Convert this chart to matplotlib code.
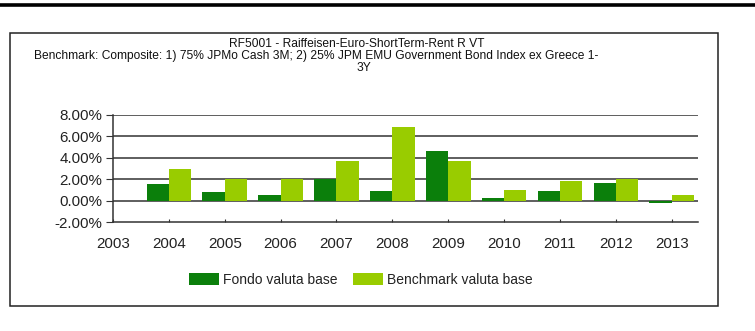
import matplotlib
matplotlib.use("Agg")
import matplotlib.pyplot as plt
from matplotlib import font_manager
from matplotlib.patches import Rectangle
from matplotlib.lines import Line2D

# ---- data ----
years = [2004, 2005, 2006, 2007, 2008, 2009, 2010, 2011, 2012, 2013]
fondo = [1.56, 0.78, 0.50, 2.06, 0.90, 4.64, 0.22, 0.90, 1.68, -0.20]
benchmark = [2.96, 2.03, 2.03, 3.74, 6.85, 3.71, 1.00, 1.84, 2.06, 0.50]
xtick_years = [2003, 2004, 2005, 2006, 2007, 2008, 2009, 2010, 2011, 2012, 2013]
yticks = [-2, 0, 2, 4, 6, 8]
series_names = ["Fondo valuta base", "Benchmark valuta base"]
title1 = "RF5001 - Raiffeisen-Euro-ShortTerm-Rent R VT"
title2 = "Benchmark: Composite: 1) 75% JPMo Cash 3M; 2) 25% JPM EMU Government Bond Index ex Greece 1-"
title3 = "3Y"

DARK = "#0b7f0b"
LIGHT = "#99cc00"

names = {f.name for f in font_manager.fontManager.ttflist}
REG = "Liberation Sans" if "Liberation Sans" in names else "DejaVu Sans"
NAR = "Liberation Sans Narrow" if "Liberation Sans Narrow" in names else REG

W, H = 755, 331
fig = plt.figure(figsize=(W / 100, H / 100), dpi=100)
renderer = fig.canvas.get_renderer()


def fit_size(s, family, target_px):
    t = fig.text(0, 0, s, fontsize=10, family=family)
    w = t.get_window_extent(renderer=renderer).width
    t.remove()
    return 10 * target_px / w


def fx(px):
    return px / W


def fy(py):
    return 1 - py / H


# top thick line and frame box
fig.add_artist(Line2D([0, 1], [fy(4.5), fy(4.5)], color="black", lw=2.6,
                      transform=fig.transFigure))
fig.add_artist(Rectangle((fx(10), fy(306)), fx(718) - fx(10), fy(33) - fy(306),
                         transform=fig.transFigure, fill=False,
                         edgecolor="#222222", lw=1.1))

# titles
fst = fit_size(title2, NAR, 566)
fig.text(fx(357), fy(47), title1, fontsize=fst, family=NAR, ha="center",
         va="baseline", color="#111111")
fig.text(fx(316), fy(59), title2, fontsize=fst, family=NAR, ha="center",
         va="baseline", color="#111111")
fig.text(fx(364), fy(71), title3, fontsize=fst, family=NAR, ha="center",
         va="baseline", color="#111111")

# axes
ax = fig.add_axes([fx(113), fy(222), fx(698) - fx(113), fy(115) - fy(222)])
bw = 0.4
ax.bar([y - 0.2 for y in years], fondo, width=bw, color=DARK, zorder=3,
       label=series_names[0])
ax.bar([y + 0.2 for y in years], benchmark, width=bw, color=LIGHT, zorder=3,
       label=series_names[1])

ax.set_xlim(2003, 2013.47)
ax.set_ylim(-2, 8)
ax.set_yticks(yticks)
ax.set_yticklabels([f"{v:.2f}%" for v in yticks])
ax.set_xticks(xtick_years)
ax.set_xticklabels([str(y) for y in xtick_years])

for v in yticks[1:]:
    ax.axhline(v, color="#333333", lw=1.1, zorder=1)

for s in ["top", "right"]:
    ax.spines[s].set_visible(False)
for s in ["left", "bottom"]:
    ax.spines[s].set_color("#333333")
    ax.spines[s].set_linewidth(1.1)

fy_lab = fit_size("8.00%", REG, 43)
fx_lab = fit_size("2004", NAR, 34)
ax.tick_params(axis="y", direction="out", length=5, width=0.8, color="#333333",
               pad=2.5, labelsize=fy_lab, labelcolor="#222222")
ax.tick_params(axis="x", direction="in", length=2.5, width=0.8, color="#333333",
               pad=10.5, labelsize=fx_lab, labelcolor="#222222")
for lab in ax.get_yticklabels():
    lab.set_family(REG)
for lab in ax.get_xticklabels():
    lab.set_family(NAR)

# legend
fleg = fit_size(series_names[0], REG, 115)
leg = ax.legend(loc="center", bbox_to_anchor=(fx(361), fy(279.5)),
                bbox_transform=fig.transFigure, ncol=2, frameon=False,
                prop={"family": REG, "size": fleg}, handlelength=2.1,
                handleheight=0.95, handletextpad=0.3, columnspacing=1.15,
                borderpad=0)
for t in leg.get_texts():
    t.set_color("#222222")

fig.savefig("out.png", dpi=100)
